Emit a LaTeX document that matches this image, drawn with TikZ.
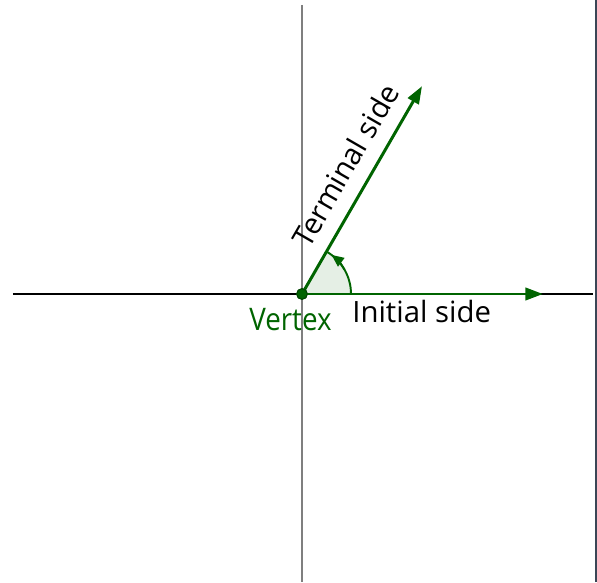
\documentclass[tikz,border=0pt]{standalone}
\usepackage{fontspec}
\setmainfont{Open Sans}
\usetikzlibrary{arrows.meta,calc}
\definecolor{ggreen}{HTML}{006400}
\definecolor{gfill}{HTML}{E5EFE5}
\definecolor{axisgray}{HTML}{7F7F7F}
\definecolor{edgeslate}{HTML}{3A4656}

\begin{document}
\begin{tikzpicture}[
  x=0.02cm,y=0.02cm,
  axis/.style={line width=0.85pt,color=black},
  yaxis/.style={line width=0.85pt,color=axisgray},
  side/.style={-{Triangle[length=10pt,width=7pt]}, line width=1.7pt, color=ggreen},
  arcline/.style={line width=1.1pt, color=ggreen},
  lbl/.style={font=\fontsize{16.7}{18}\selectfont, inner sep=0pt},
  vdot/.style={circle, draw=ggreen!70!black, fill=ggreen, line width=0.6pt, inner sep=0pt, minimum size=6pt},
]
\useasboundingbox (-302,-288) rectangle (295,294);
% frame edge on the right
\draw[line width=1.2pt,color=edgeslate] (294,-288) -- (294,294);
% axes
\coordinate (xl) at (-289,0); \coordinate (xr) at (291,0);
\coordinate (yt) at (0,289); \coordinate (yb) at (0,-288);
\draw[axis] (xl) -- (xr);
\draw[yaxis] (yt) -- (yb);
% angle sector
\fill[gfill] (0,0) -- (49,0) arc[start angle=0,end angle=60,radius=49] -- cycle;
\draw[arcline] (49,0) arc[start angle=0,end angle=60,radius=49];
\draw[arcline,-{Triangle[length=7pt,width=6pt]}] (30:49) arc[start angle=30,end angle=53,radius=49];
% sides
\node[vdot] (vtx) at (0,0) {};
\coordinate (init) at (241,0);
\coordinate (term) at (60:240);
\draw[side] (vtx.center) -- (init);
\draw[side] (vtx.center) -- (term);
\node[vdot] at (vtx) {};
% labels
\node[lbl,text=ggreen,anchor=base,font=\fontsize{15.8}{17}\selectfont] (vlab) at (-11.5,-36) {\scalebox{1}[1.12]{Vertex}};
\node[lbl,anchor=base west] (ilab) at (50,-28) {Initial side};
\node[lbl,anchor=base,rotate=60] (tlab) at ($(60:133)+(150:16)$) {Terminal side};
\end{tikzpicture}
\end{document}
